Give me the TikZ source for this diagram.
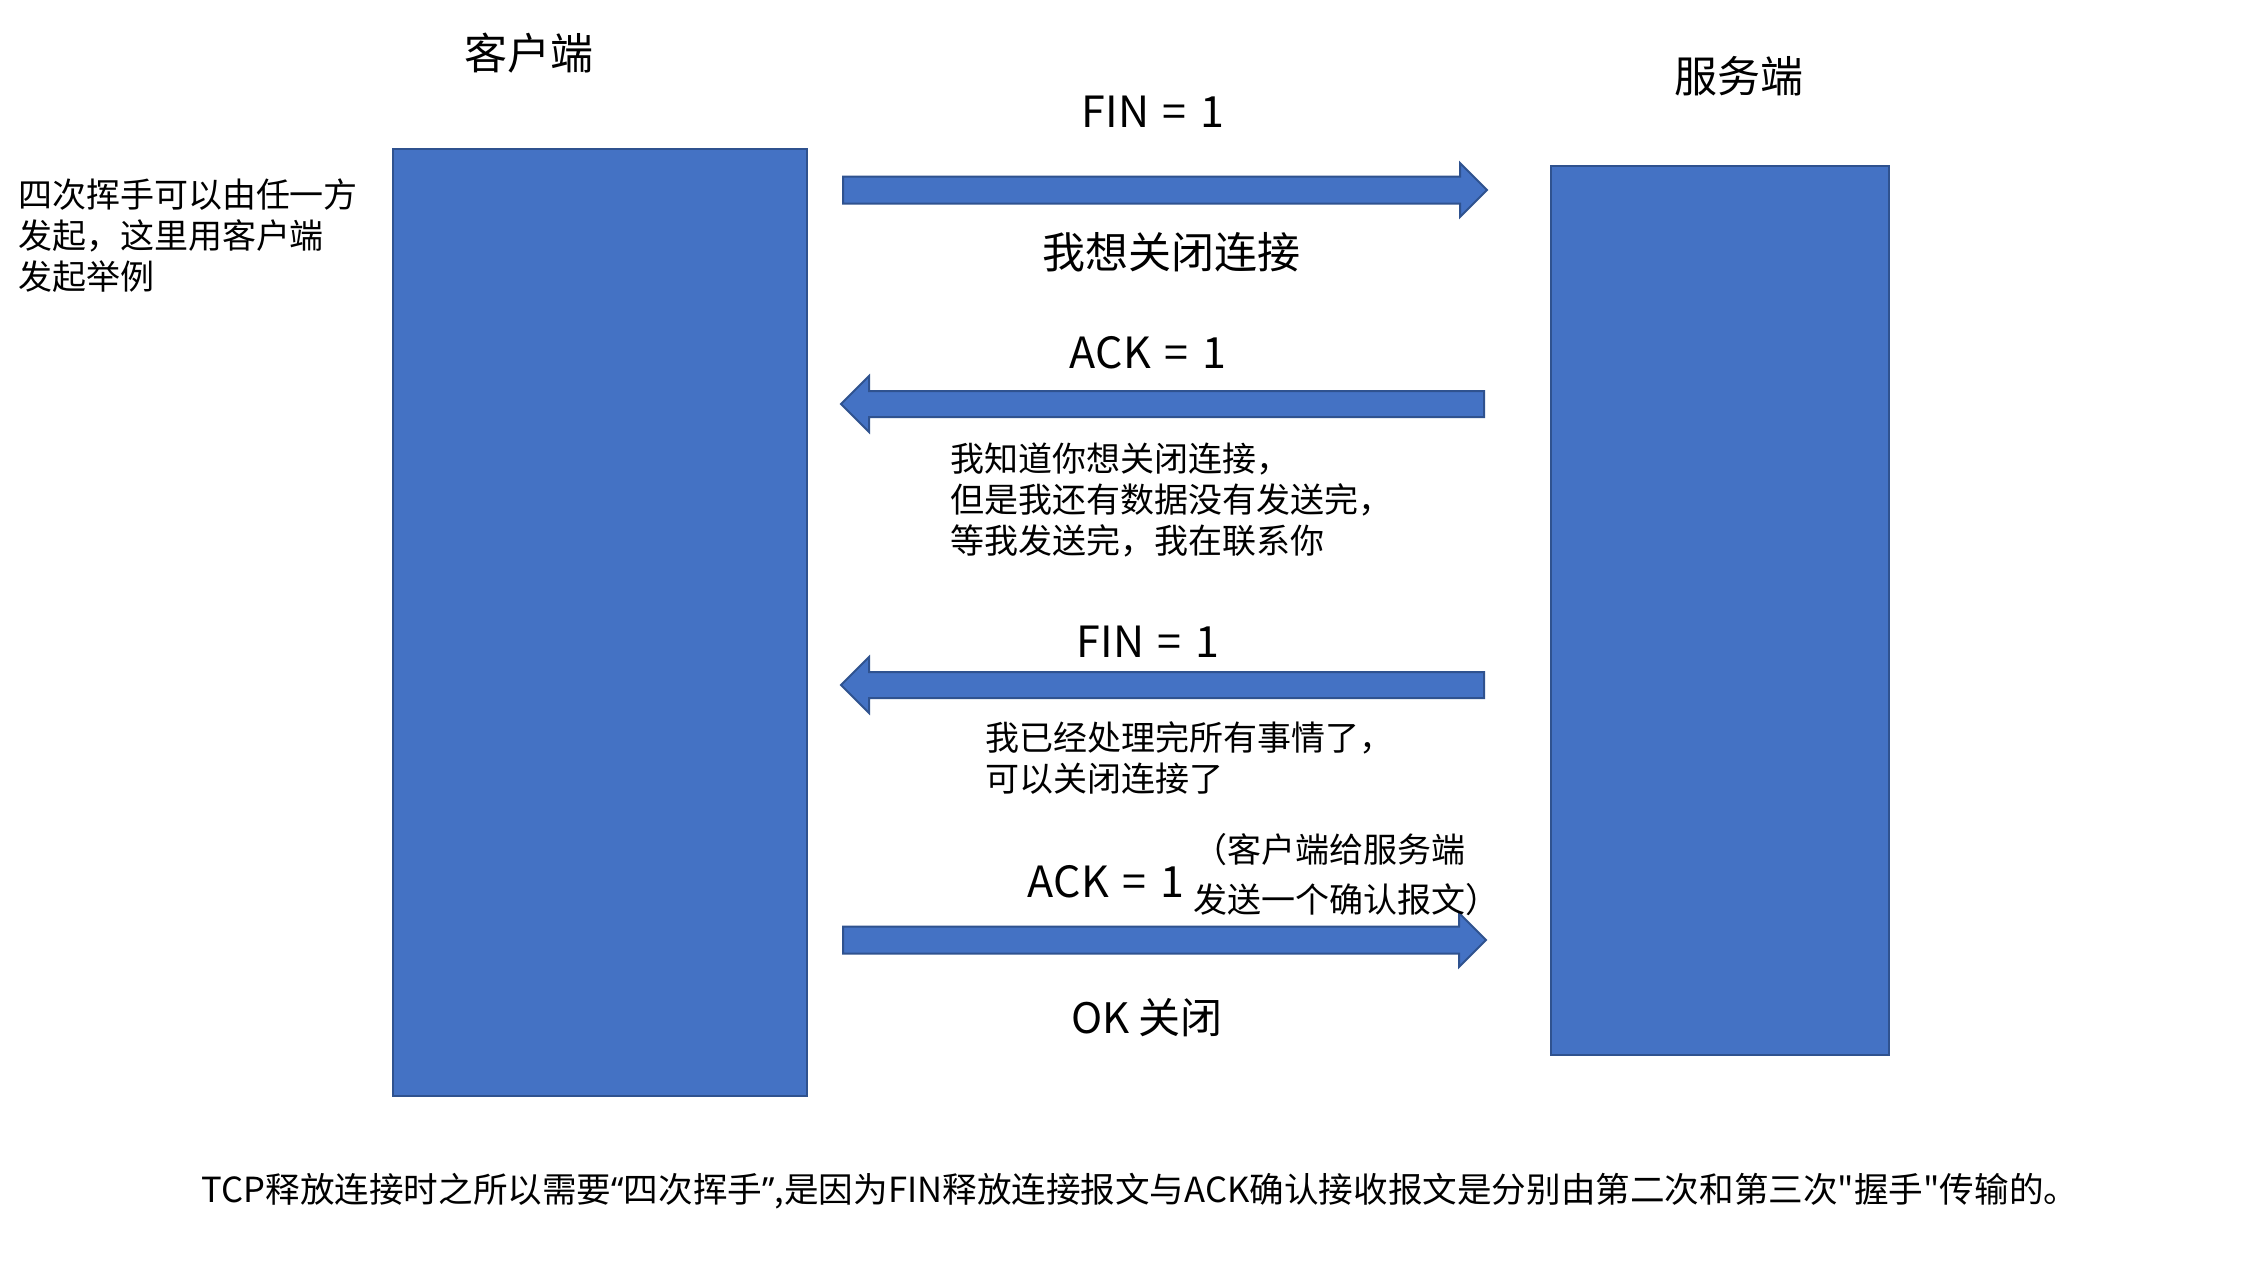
\documentclass[tikz,border=0pt]{standalone}
\usepackage{fontspec}
\setmainfont{Noto Sans CJK SC}
\newfontfamily\rawfont{Noto Sans CJK SC}
\newfontfamily\quotefont{Noto Sans}
\newcommand{\fsz}[2]{\fontsize{#1}{#2}\selectfont}
\newcommand{\eqsp}{\hspace{0.32em}=\hspace{0.32em}}
\definecolor{boxblue}{HTML}{4472C4}
\definecolor{boxedge}{HTML}{2F528F}
\tikzset{
  hostbox/.style={fill=boxblue, draw=boxedge, line width=2.5pt},
  barrow/.style={fill=boxblue, draw=boxedge, line width=2pt, line join=miter},
  lbl/.style={inner sep=0pt, outer sep=0pt, text=black},
  biglbl/.style={lbl, font=\fsz{43}{52}},
  midlbl/.style={lbl, font=\fsz{34}{41}, align=left, anchor=west},
}
\begin{document}
\begin{tikzpicture}[x=1pt, y=-1pt]
\useasboundingbox (0,0) rectangle (2244,1270);
\fill[white] (0,0) rectangle (2244,1270);

% hosts
\draw[hostbox] (393,149) rectangle (807,1096);
\node[lbl] (clientbox) at (600,622) {};
\draw[hostbox] (1551,166) rectangle (1889,1055);
\node[lbl] (serverbox) at (1720,610) {};

\node[biglbl] (client) at (529,53) {客户端};
\node[biglbl] (server) at (1739,76) {服务端};

% arrow 1 (right)
\draw[barrow] (843,176.5) -- (1460,176.5) -- (1460,163) -- (1487,190) -- (1460,217) -- (1460,203.5) -- (843,203.5) -- cycle;
% arrow 2 (left)
\draw[barrow] (1484,391) -- (869,391) -- (869,376) -- (841,404) -- (869,432) -- (869,417) -- (1484,417) -- cycle;
% arrow 3 (left)
\draw[barrow] (1484,672) -- (869,672) -- (869,657) -- (841,685) -- (869,713) -- (869,698) -- (1484,698) -- cycle;
% arrow 4 (right)
\draw[barrow] (843,926.5) -- (1459,926.5) -- (1459,913) -- (1486,940) -- (1459,967) -- (1459,953.5) -- (843,953.5) -- cycle;

% labels
\node[biglbl] (fin1) at (1153,112) {FIN\eqsp1};
\node[biglbl] (want) at (1171,252) {我想关闭连接};
\node[biglbl] (ack1) at (1148,353) {ACK\eqsp1};
\node[midlbl] (know) at (950,500) {我知道你想关闭连接，\\但是我还有数据没有发送完，\\等我发送完，我在联系你};
\node[biglbl] (fin2) at (1148,642) {FIN\eqsp1};
\node[midlbl] (done) at (985,758) {我已经处理完所有事情了，\\可以关闭连接了};
\node[biglbl] (ack2) at (1106,882) {ACK\eqsp1};
\node[lbl, font=\fsz{34}{50}, align=left, anchor=west] (paren) at (1193,875) {（客户端给服务端\\发送一个确认报文）};
\node[lbl, font=\fsz{42}{50}] (ok) at (1147,1018) {OK 关闭};

\node[lbl, font=\fsz{34}{41}, align=left, anchor=west] (note) at (18,236) {四次挥手可以由任一方\\发起，这里用客户端\\发起举例};

\node[lbl, font=\fsz{34.6}{40}] (bottom) at (1140,1191) {TCP释放连接时之所以需要{\quotefont “}四次挥手{\quotefont ”},是因为FIN释放连接报文与ACK确认接收报文是分别由第二次和第三次{\rawfont "}握手{\rawfont "}传输的。};
\end{tikzpicture}
\end{document}
